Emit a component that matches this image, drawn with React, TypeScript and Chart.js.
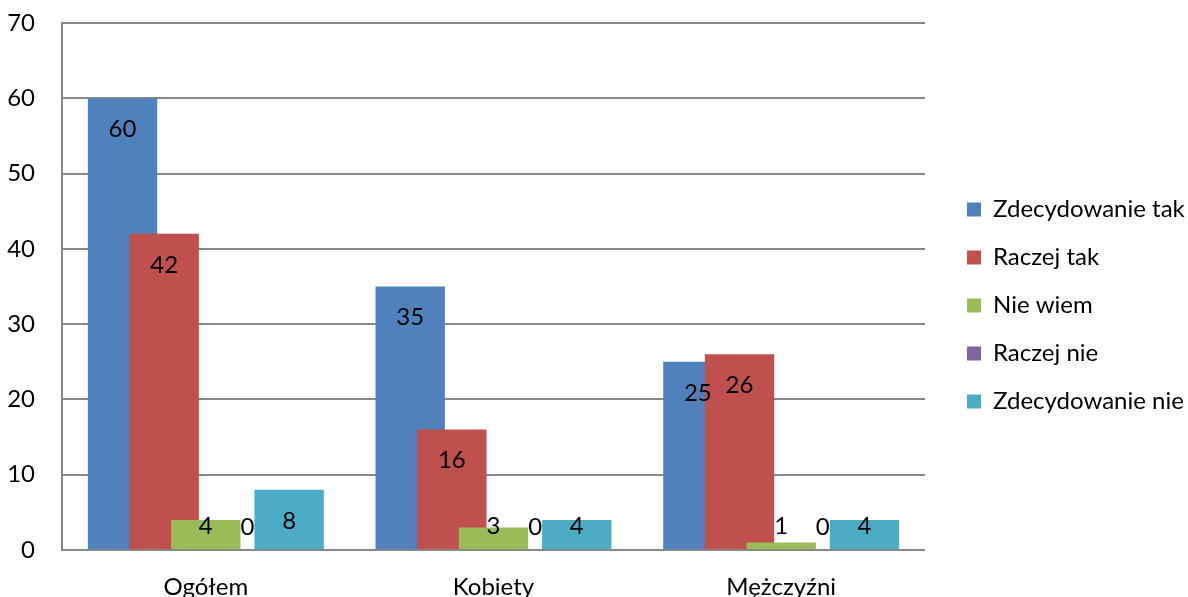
import React, { useEffect, useRef } from "react";
import { Chart, registerables } from "chart.js";

Chart.register(...registerables);

const categories = ["Ogółem", "Kobiety", "Mężczyźni"];
const seriesNames = ["Zdecydowanie tak", "Raczej tak", "Nie wiem", "Raczej nie", "Zdecydowanie nie"];
const zdecydowanieTak = [60, 35, 25];
const raczejTak = [42, 16, 26];
const nieWiem = [4, 3, 1];
const raczejNie = [0, 0, 0];
const zdecydowanieNie = [8, 4, 4];
const seriesValues = [zdecydowanieTak, raczejTak, nieWiem, raczejNie, zdecydowanieNie];
const seriesColors = ["#4F81BD", "#C0504D", "#9BBB59", "#8064A2", "#4BACC6"];
const yTicks = [0, 10, 20, 30, 40, 50, 60, 70];

const FONT = "Lato";
const FS = 24;

const overlapAndLabels = {
  id: "overlapAndLabels",
  beforeDatasetsDraw(chart: any) {
    const metas = chart.getSortedVisibleDatasetMetas().slice().sort((a: any, b: any) => a.index - b.index);
    for (const m of metas) {
      if (typeof chart._drawDataset === "function") chart._drawDataset(m);
      else m.controller.draw();
    }
    const ctx = chart.ctx;
    ctx.save();
    ctx.font = `${FS}px ${FONT}`;
    ctx.fillStyle = "#000";
    ctx.textAlign = "center";
    ctx.textBaseline = "middle";
    for (const m of metas) {
      const data = chart.data.datasets[m.index].data;
      m.data.forEach((el: any, i: number) => {
        const y = Math.min(el.y + 31, el.base - 23);
        ctx.fillText(String(data[i]), el.x, y);
      });
    }
    ctx.restore();
    return false;
  },
};

export default function App() {
  const ref = useRef<HTMLCanvasElement | null>(null);
  useEffect(() => {
    document.body.style.margin = "0";
    if (!ref.current) return;
    Chart.defaults.font.family = FONT;
    Chart.defaults.color = "#000";
    const chart = new Chart(ref.current, {
      type: "bar",
      data: {
        labels: categories,
        datasets: seriesNames.map((name, i) => ({
          label: name,
          data: seriesValues[i],
          backgroundColor: seriesColors[i],
          borderWidth: 0,
          categoryPercentage: 0.7239,
          barPercentage: 1.665,
        })),
      },
      options: {
        responsive: false,
        animation: false,
        layout: { padding: { top: 14, bottom: 0, left: 0, right: 0 } },
        plugins: {
          tooltip: { enabled: false },
          legend: {
            position: "right",
            maxWidth: 245,
            labels: {
              font: { size: FS, family: FONT },
              color: "#000",
              boxWidth: 14,
              boxHeight: 14,
              padding: 24,
            },
          },
        },
        scales: {
          x: {
            type: "category",
            grid: { display: false },
            border: { display: false },
            ticks: { font: { size: FS }, color: "#000", padding: 15 },
            afterFit(s: any) {
              s.height = 47;
            },
          },
          y: {
            type: "linear",
            min: 0,
            max: 70,
            afterBuildTicks(s: any) {
              s.ticks = yTicks.map((v) => ({ value: v }));
            },
            grid: { color: "#888888", lineWidth: 2, drawTicks: false },
            border: { display: true, color: "#888888", width: 2 },
            ticks: { font: { size: FS }, color: "#000", padding: 27 },
            afterFit(s: any) {
              s.width = 62;
              s.paddingTop = 23;
              s.paddingBottom = 0;
            },
          },
          gap: {
            type: "linear",
            position: "right",
            display: true,
            grid: { display: false },
            border: { display: false },
            ticks: { display: false },
            afterFit(s: any) {
              s.width = 18;
            },
          },
        },
      },
      plugins: [overlapAndLabels],
    } as any);
    return () => chart.destroy();
  }, []);
  return (
    <div style={{ width: 1188, height: 597 }}>
      <canvas ref={ref} width={1188} height={597} style={{ display: "block" }} />
    </div>
  );
}
